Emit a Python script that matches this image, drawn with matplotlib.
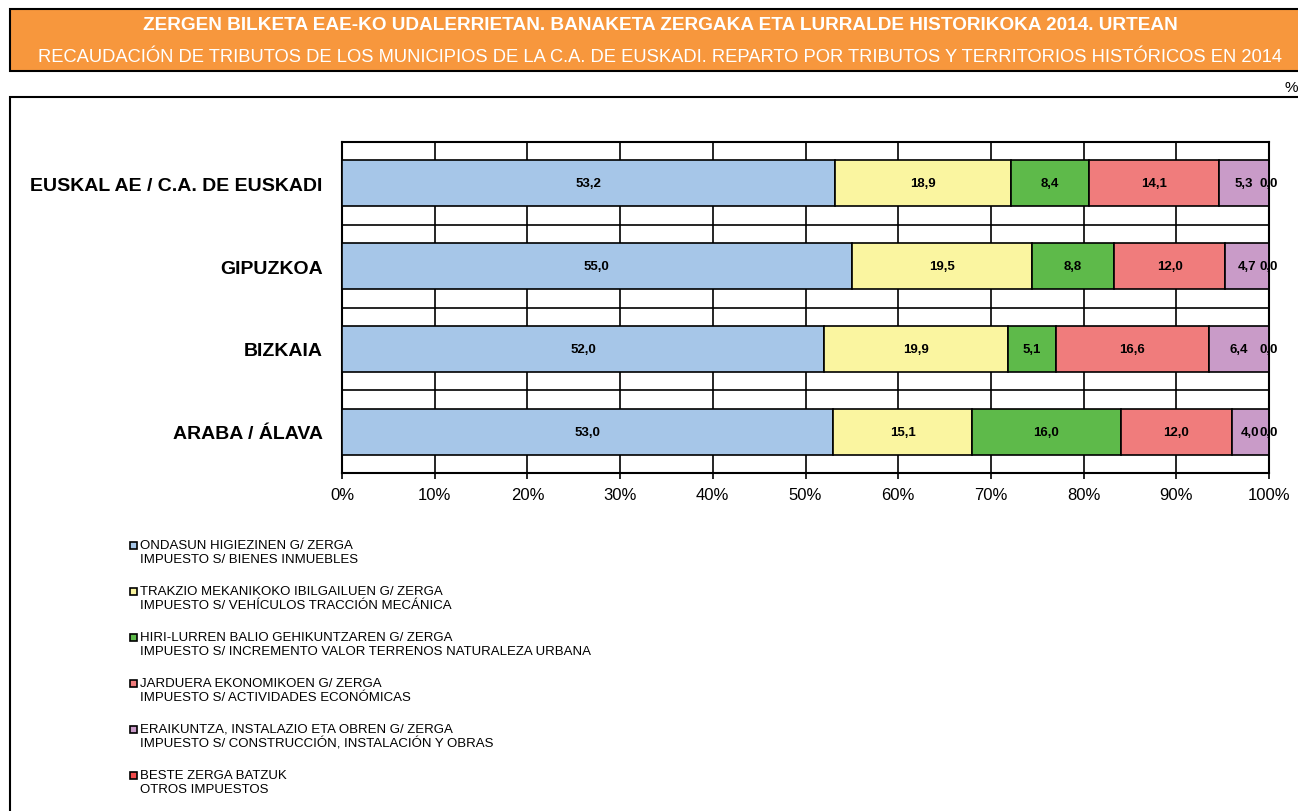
import matplotlib
matplotlib.use("Agg")
import matplotlib.pyplot as plt
from matplotlib.patches import Rectangle
import numpy as np

plt.rcParams['font.family'] = ['Liberation Sans', 'DejaVu Sans']

# datos
territorios = ["EUSKAL AE / C.A. DE EUSKADI", "GIPUZKOA", "BIZKAIA", "ARABA / ÁLAVA"]
ondasun = [53.2, 55.0, 52.0, 53.0]
trakzio = [18.9, 19.5, 19.9, 15.1]
hiri_lurren = [8.4, 8.8, 5.1, 16.0]
jarduera = [14.1, 12.0, 16.6, 12.0]
eraikuntza = [5.3, 4.7, 6.4, 4.0]
beste = [0.04, 0.03, 0.03, 0.04]

series = [ondasun, trakzio, hiri_lurren, jarduera, eraikuntza, beste]
colores = ["#A6C6E8", "#FAF5A0", "#5EBA4A", "#F07C7C", "#C99BC8", "#F24B4B"]
leyenda = [
    ("ONDASUN HIGIEZINEN G/ ZERGA", "IMPUESTO S/ BIENES INMUEBLES"),
    ("TRAKZIO MEKANIKOKO IBILGAILUEN G/ ZERGA", "IMPUESTO S/ VEHÍCULOS TRACCIÓN MECÁNICA"),
    ("HIRI-LURREN BALIO GEHIKUNTZAREN G/ ZERGA", "IMPUESTO S/ INCREMENTO VALOR TERRENOS NATURALEZA URBANA"),
    ("JARDUERA EKONOMIKOEN G/ ZERGA", "IMPUESTO S/ ACTIVIDADES ECONÓMICAS"),
    ("ERAIKUNTZA, INSTALAZIO ETA OBREN G/ ZERGA", "IMPUESTO S/ CONSTRUCCIÓN, INSTALACIÓN Y OBRAS"),
    ("BESTE ZERGA BATZUK", "OTROS IMPUESTOS"),
]
ticks_x = [0, 10, 20, 30, 40, 50, 60, 70, 80, 90, 100]

W, H = 1298, 812
fig = plt.figure(figsize=(W / 100, H / 100), dpi=100)

# cabecera naranja
fig.patches.append(Rectangle((10 / W, 1 - 72 / H), 1.2, 62 / H, transform=fig.transFigure,
                             facecolor="#F7973D", edgecolor="black", linewidth=1.5))
fig.text(660 / W, 1 - 25 / H, "ZERGEN BILKETA EAE-KO UDALERRIETAN. BANAKETA ZERGAKA ETA LURRALDE HISTORIKOKA 2014. URTEAN",
         ha="center", va="center", color="white", fontsize=13.7, fontweight="bold")
fig.text(660 / W, 1 - 58 / H, "RECAUDACIÓN DE TRIBUTOS DE LOS MUNICIPIOS DE LA C.A. DE EUSKADI. REPARTO POR TRIBUTOS Y TERRITORIOS HISTÓRICOS EN 2014",
         ha="center", va="center", color="white", fontsize=13.2)
fig.text(1298 / W, 1 - 88 / H, "%", ha="right", va="center", fontsize=11)

# marco exterior
fig.patches.append(Rectangle((10 / W, -0.1), 1.2, 1.1 - 98 / H, transform=fig.transFigure,
                             facecolor="none", edgecolor="black", linewidth=1.5))

ax = fig.add_axes([342 / W, 1 - 474 / H, (1269 - 342) / W, (474 - 143) / H])

datos = np.array(series)
pct = datos / datos.sum(axis=0) * 100
y = np.arange(len(territorios))
izq = np.zeros(len(territorios))
for vals, p, c in zip(series, pct, colores):
    ax.barh(y, p, left=izq, height=0.556, color=c, edgecolor="black", linewidth=1.2, zorder=3)
    for yi, l, w, v in zip(y, izq, p, vals):
        ax.text(l + w / 2, yi, f"{v:.1f}".replace(".", ","), ha="center", va="center",
                fontsize=9.5, fontweight="bold", zorder=4)
    izq += p

ax.set_xlim(0, 100)
ax.set_ylim(len(territorios) - 0.5, -0.5)
ax.set_xticks(ticks_x)
ax.set_xticklabels([f"{t}%" for t in ticks_x], fontsize=12)
ax.set_yticks(y)
ax.set_yticklabels(territorios, fontsize=14, fontweight="bold")
ax.tick_params(axis="y", length=0, pad=14)
ax.tick_params(axis="x", direction="out", length=4, width=1.2, pad=6)
ax.set_yticks(np.arange(len(territorios) - 1) + 0.5, minor=True)
ax.tick_params(axis="y", which="minor", length=0)
ax.grid(True, which="major", axis="x", color="black", linewidth=1.2, zorder=0)
ax.grid(True, which="minor", axis="y", color="black", linewidth=1.2, zorder=0)
ax.set_axisbelow(True)
for s in ax.spines.values():
    s.set_linewidth(1.5)

# leyenda
for i, ((eu, es), c) in enumerate(zip(leyenda, colores)):
    yt = 546 + i * 46
    fig.patches.append(Rectangle((130 / W, 1 - (yt + 4) / H), 7 / W, 7 / H, transform=fig.transFigure,
                                 facecolor=c, edgecolor="black", linewidth=1.2))
    fig.text(140 / W, 1 - yt / H, eu, ha="left", va="center", fontsize=9.5)
    fig.text(140 / W, 1 - (yt + 14) / H, es, ha="left", va="center", fontsize=9.5)

fig.savefig("out.png", dpi=100)
